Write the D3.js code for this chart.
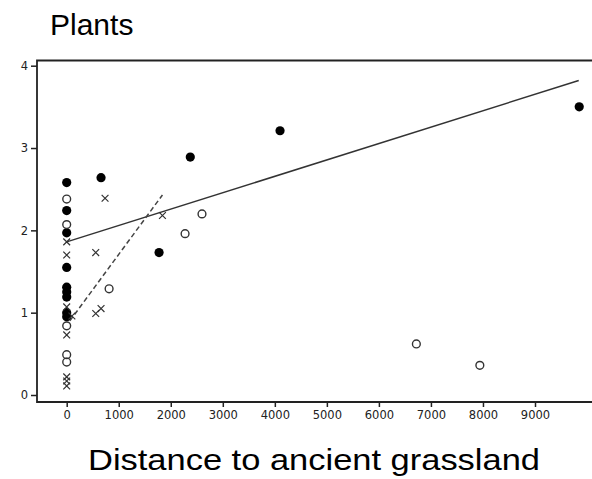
<!DOCTYPE html>
<html>
<head>
<meta charset="utf-8">
<script src="https://cdn.jsdelivr.net/npm/d3@7"></script>
<style>
  html, body { margin: 0; padding: 0; background: #fff; }
  svg { display: block; }
</style>
</head>
<body>
<svg id="chart"></svg>
<script>
// Filled circles
const filledX = [0, 0, 0, 0, 0, 0, 0, 0, 0, 660, 1775, 2375, 4100, 9850];
const filledY = [2.58, 2.24, 1.97, 1.55, 1.31, 1.25, 1.19, 1.0, 0.95, 2.64, 1.73, 2.89, 3.21, 3.5];

// Open circles
const openX = [0, 0, 0, 0, 0, 815, 2275, 2600, 6720, 7940];
const openY = [2.38, 2.07, 0.84, 0.49, 0.4, 1.29, 1.96, 2.2, 0.62, 0.36];

// Crosses
const crossX = [0, 0, 0, 0, 0, 0, 0, 100, 558, 737, 558, 660, 1840];
const crossY = [1.86, 1.7, 1.07, 0.73, 0.22, 0.17, 0.11, 0.96, 1.73, 2.39, 0.99, 1.05, 2.18];

// Fitted lines (end points)
const solidFitX = [0, 9840];
const solidFitY = [1.86, 3.82];
const dashedFitX = [60, 1840];
const dashedFitY = [0.9, 2.43];

// Ticks and labels
const xTicks = [0, 1000, 2000, 3000, 4000, 5000, 6000, 7000, 8000, 9000];
const yTicks = [0, 1, 2, 3, 4];
const titleText = "Plants";
const xLabelText = "Distance to ancient grassland";

const width = 592;
const height = 479;

// Dimensions of the plotting frame
const frame = { left: 37, top: 60.5, right: 592, bottom: 402 };

const svg = d3
  .select("#chart")
  .attr("width", width)
  .attr("height", height);

// Scales
const xScale = d3.scaleLinear().domain([0, 9000]).range([66.7, 535]);
const yScale = d3.scaleLinear().domain([0, 4]).range([395, 65.7]);

// Title
svg
  .append("text")
  .attr("x", 50)
  .attr("y", 35)
  .style("font-family", "'Liberation Sans', Arial, sans-serif")
  .style("font-size", "30px")
  .attr("fill", "#000")
  .text(titleText);

// Axes
const yAxis = d3.axisLeft(yScale).tickValues(yTicks).tickSize(6).tickPadding(3).tickFormat(d3.format("d"));
svg
  .append("g")
  .attr("transform", `translate(${frame.left}, 0)`)
  .call(yAxis)
  .call(g => g.select(".domain").remove())
  .call(g => g.selectAll(".tick line").attr("stroke", "#222").attr("stroke-width", 1.5))
  .call(g => g.selectAll(".tick text")
    .attr("fill", "#222")
    .style("font-family", "'DejaVu Sans', Verdana, sans-serif")
    .style("font-size", "11.5px"));

const xAxis = d3.axisBottom(xScale).tickValues(xTicks).tickSize(5).tickPadding(4).tickFormat(d3.format("d"));
svg
  .append("g")
  .attr("transform", `translate(0, ${frame.bottom})`)
  .call(xAxis)
  .call(g => g.select(".domain").remove())
  .call(g => g.selectAll(".tick line").attr("stroke", "#222").attr("stroke-width", 1.5))
  .call(g => g.selectAll(".tick text")
    .attr("fill", "#222")
    .style("font-family", "'DejaVu Sans', Verdana, sans-serif")
    .style("font-size", "11.5px"));

// Frame (top, left, bottom; runs off the right edge)
svg
  .append("path")
  .attr("d", `M${frame.right},${frame.top}H${frame.left}V${frame.bottom}H${frame.right}`)
  .attr("fill", "none")
  .attr("stroke", "#222")
  .attr("stroke-width", 1.8);

// Fit lines
const line = d3.line().x(d => xScale(d[0])).y(d => yScale(d[1]));

svg
  .append("path")
  .datum(d3.zip(solidFitX, solidFitY))
  .attr("d", line)
  .attr("fill", "none")
  .attr("stroke", "#333")
  .attr("stroke-width", 1.5);

svg
  .append("path")
  .datum(d3.zip(dashedFitX, dashedFitY))
  .attr("d", line)
  .attr("fill", "none")
  .attr("stroke", "#444")
  .attr("stroke-width", 1.5)
  .attr("stroke-dasharray", "5 3");

// Filled circles
svg
  .append("g")
  .selectAll("circle")
  .data(d3.zip(filledX, filledY))
  .join("circle")
  .attr("cx", d => xScale(d[0]))
  .attr("cy", d => yScale(d[1]))
  .attr("r", 4.6)
  .attr("fill", "#000");

// Open circles
svg
  .append("g")
  .selectAll("circle")
  .data(d3.zip(openX, openY))
  .join("circle")
  .attr("cx", d => xScale(d[0]))
  .attr("cy", d => yScale(d[1]))
  .attr("r", 3.9)
  .attr("fill", "none")
  .attr("stroke", "#333")
  .attr("stroke-width", 1.4);

// Crosses
const s = 3.4;
svg
  .append("g")
  .selectAll("path")
  .data(d3.zip(crossX, crossY))
  .join("path")
  .attr("transform", d => `translate(${xScale(d[0])}, ${yScale(d[1])})`)
  .attr("d", `M${-s},${-s}L${s},${s}M${-s},${s}L${s},${-s}`)
  .attr("fill", "none")
  .attr("stroke", "#333")
  .attr("stroke-width", 1.2);

// X axis title
svg
  .append("text")
  .attr("x", 88)
  .attr("y", 470)
  .attr("textLength", 452)
  .attr("lengthAdjust", "spacingAndGlyphs")
  .style("font-family", "'Liberation Sans', Arial, sans-serif")
  .style("font-size", "29px")
  .attr("fill", "#000")
  .text(xLabelText);
</script>
</body>
</html>
